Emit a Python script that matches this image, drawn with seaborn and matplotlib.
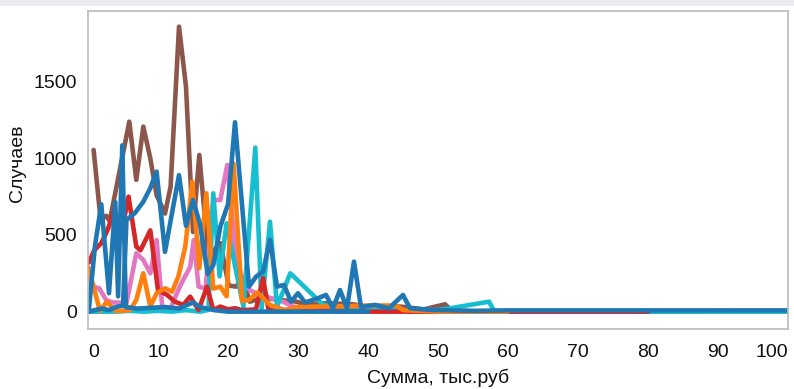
import matplotlib
matplotlib.use("Agg")
import matplotlib.pyplot as plt
import seaborn as sns
import pandas as pd
from matplotlib.patches import Rectangle

# ---- data ----
brown_x = [0.8, 1.8, 2.6, 3.1, 5.9, 6.9, 7.9, 8.9, 9.8, 11, 11.8, 13, 14, 15, 15.9, 17.2, 18.9, 20.1, 21.2, 22, 23.1, 25, 27.4, 29.8, 31.2, 34, 37.9, 40, 44.6, 48, 51, 52, 60, 80, 98, 100]
brown_y = [1055, 600, 625, 590, 1239, 860, 1207, 1000, 760, 640, 815, 1859, 1467, 520, 1022, 360, 447, 170, 163, 228, 65, 90, 76, 65, 44, 55, 48, 30, 33, 15, 48, 5, 0, 0, 5, 0]

pink_x = [0.1, 0.7, 1.6, 2.6, 3.5, 4.5, 5.4, 6.9, 7.9, 8.9, 9.8, 10.6, 11.7, 13.1, 14.6, 15.1, 15.8, 16.8, 17.9, 18.9, 19.9, 21, 22, 23.1, 24, 26, 27.9, 29.3, 31, 35, 40, 50, 74]
pink_y = [207, 163, 152, 76, 60, 59, 33, 380, 337, 250, 467, 33, 11, 163, 293, 467, 163, 150, 728, 728, 957, 420, 200, 141, 120, 90, 65, 33, 20, 10, 5, 0, 0]

cyan_x = [0, 2, 4, 6, 8, 10, 12, 14, 16, 17.2, 17.9, 18.8, 19.8, 21, 22.2, 23.9, 24.8, 26, 27, 28.9, 33.6, 36, 40, 45, 50, 51.7, 57.3, 58, 60, 100]
cyan_y = [0, 0, 0, 5, 0, 5, 0, 10, 0, 11, 772, 230, 576, 300, 33, 1070, 20, 587, 33, 250, 44, 30, 20, 10, 10, 22, 65, 5, 0, 0]

orange_x = [0, 0.8, 1.7, 2.7, 3.9, 5, 6, 6.9, 7.9, 8.9, 9.8, 11, 12, 12.9, 13.9, 14.9, 15.9, 16.9, 17.9, 18.9, 19.8, 20.8, 22, 23, 24.2, 26, 28, 30, 33, 36, 40, 44, 45, 50, 60]
orange_y = [290, 163, 5, 65, 5, 5, 11, 76, 250, 33, 120, 152, 130, 228, 424, 848, 283, 772, 150, 163, 100, 965, 70, 76, 125, 44, 11, 30, 33, 35, 40, 40, 10, 0, 0]

red_x = [0.1, 0.9, 1.9, 2.8, 3.8, 4.7, 5.8, 6.9, 7.5, 8.9, 10, 11.3, 12.4, 13.6, 14.6, 15.8, 17, 17.9, 18.9, 20, 21, 22, 23, 24, 25, 25.8, 28, 30, 35, 40, 60, 80]
red_y = [320, 400, 447, 533, 663, 500, 750, 424, 400, 530, 140, 109, 65, 44, 98, 11, 163, 11, 33, 15, 22, 10, 12, 15, 218, 11, 5, 10, 5, 0, 0, 0]

blue_a_x = [0.1, 1.0, 1.9, 3.0, 3.9, 4.3, 4.9, 5.4, 7, 9, 11, 13, 15, 16, 18, 20, 30, 40]
blue_a_y = [0, 430, 700, 120, 715, 100, 1085, 30, 20, 25, 30, 20, 60, 30, 10, 0, 0, 0]

blue_b_x = [0, 1, 2, 3, 4, 5, 5.5, 6.7, 7.9, 8.9, 9.8, 11, 12, 13, 14, 15, 16, 17.1, 17.9, 18.9, 20, 21, 23, 24, 25, 26, 27, 28, 29, 30, 31, 32.6, 34, 35, 36, 37, 38, 39, 41, 43, 45, 46, 49, 55, 60, 70, 80, 90, 100]
blue_b_y = [0, 10, 20, 10, 30, 40, 598, 643, 717, 806, 913, 390, 643, 890, 560, 728, 570, 245, 304, 554, 700, 1235, 163, 228, 261, 468, 163, 174, 65, 120, 60, 83, 109, 22, 141, 22, 326, 30, 44, 22, 109, 22, 11, 5, 8, 8, 8, 8, 8]

series = [
    ("brown", brown_x, brown_y, "#8c564b"),
    ("pink", pink_x, pink_y, "#e377c2"),
    ("cyan", cyan_x, cyan_y, "#17becf"),
    ("red", red_x, red_y, "#d62728"),
    ("orange", orange_x, orange_y, "#ff7f0e"),
    ("blue_a", blue_a_x, blue_a_y, "#1f77b4"),
    ("blue_b", blue_b_x, blue_b_y, "#1f77b4"),
]

rows = []
for name, xs, ys, _ in series:
    for i, (xv, yv) in enumerate(zip(xs, ys)):
        rows.append({"series": name, "x": xv, "y": yv, "order": i})
df = pd.DataFrame(rows)
palette = {name: c for name, _, _, c in series}
hue_order = [s[0] for s in series]

sns.set_style("white")
plt.rcParams["font.family"] = ["Liberation Sans", "DejaVu Sans"]

fig = plt.figure(figsize=(7.94, 3.89), dpi=100)
fig.patches.append(Rectangle((0, 1 - 6 / 389), 1, 6 / 389, transform=fig.transFigure,
                             facecolor="#ebebef", edgecolor="none", zorder=0))
ax = fig.add_axes([88 / 794, 1 - 328.5 / 389, 700 / 794, (328.5 - 10.7) / 389])

for name in hue_order:
    sub = df[df.series == name]
    sns.lineplot(data=sub, x="x", y="y", color=palette[name], lw=3.3, sort=False,
                 estimator=None, ax=ax, legend=False)

ax.set_xlim(0, 100)
ax.set_ylim(-110, 1963)
ax.set_xticks(range(0, 101, 10))
ax.set_yticks([0, 500, 1000, 1500])
ax.set_xlabel("Сумма, тыс.руб", fontsize=14, color="#111111")
ax.set_ylabel("Случаев", fontsize=14, color="#111111")
ax.xaxis.set_label_coords(0.5, -0.128)
ax.yaxis.set_label_coords(-0.088, 0.52)
ax.tick_params(axis="both", direction="out", length=7, width=1, color="#999999",
               labelsize=14, labelcolor="#111111", pad=1)
ax.tick_params(axis="x", length=6, pad=5)
for sp in ax.spines.values():
    sp.set_color("#bbbbbb")
    sp.set_linewidth(1.2)
xl = ax.get_xticklabels()
xl[0].set_ha("left")
xl[-1].set_ha("right")
ax.grid(False)

fig.savefig("out.png", dpi=100)
